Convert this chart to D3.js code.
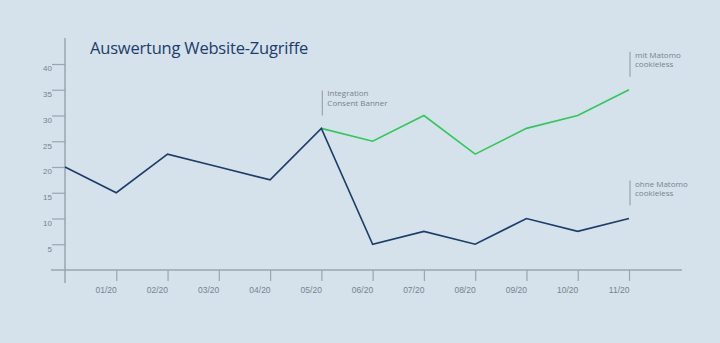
<!DOCTYPE html>
<html lang="de">
<head>
    <meta charset="UTF-8">
    <title>Auswertung Website-Zugriffe</title>
    <script src="https://d3js.org/d3.v7.min.js"></script>
    <style>
        html, body {
            margin: 0;
            padding: 0;
            background-color: #d5e1eb;
        }
        svg {
            display: block;
            font-family: 'Open Sans', sans-serif;
        }
    </style>
</head>
<body>
    <div id="chart"></div>
    <script>
        // DATA
        const months = ["", "01/20", "02/20", "03/20", "04/20", "05/20", "06/20", "07/20", "08/20", "09/20", "10/20", "11/20"];
        const ohneMatomo = [20, 15, 22.5, 20, 17.5, 27.5, 5, 7.5, 5, 10, 7.5, 10];
        const mitMatomo = [null, null, null, null, null, 27.5, 25, 30, 22.5, 27.5, 30, 35];
        const yTicks = [5, 10, 15, 20, 25, 30, 35, 40];
        const notes = [
            {index: 5, value: 27.5, lines: ["Integration", "Consent Banner"]},
            {index: 11, value: 35, lines: ["mit Matomo", "cookieless"]},
            {index: 11, value: 10, lines: ["ohne Matomo", "cookieless"]}
        ];

        const width = 720, height = 343;
        const axisColor = "#9aa5af";
        const textColor = "#78838d";

        const svg = d3.select("#chart")
            .append("svg")
            .attr("width", width)
            .attr("height", height);

        // SCALES
        const x = d3.scaleLinear()
            .domain([0, months.length - 1])
            .range([65, 629]);
        const y = d3.scaleLinear()
            .domain([0, 40])
            .range([270, 64]);

        // TITLE
        svg.append("text")
            .attr("x", 90)
            .attr("y", 54)
            .attr("fill", "#1c3d6a")
            .style("font-size", "16.5px")
            .style("letter-spacing", "-0.2px")
            .text("Auswertung Website-Zugriffe");

        // Y AXIS
        const yAxis = d3.axisLeft(y)
            .tickValues(yTicks)
            .tickSize(13)
            .tickPadding(0);
        const gy = svg.append("g")
            .attr("transform", "translate(65,0)")
            .call(yAxis);
        gy.select(".domain").remove();
        gy.selectAll("line").attr("stroke", axisColor).attr("stroke-width", 1.2);
        gy.selectAll("text")
            .attr("x", -13)
            .attr("dy", "0.85em")
            .attr("fill", textColor)
            .style("font-size", "8px");
        svg.append("line")
            .attr("x1", 65).attr("x2", 65)
            .attr("y1", 38).attr("y2", 283)
            .attr("stroke", axisColor)
            .attr("stroke-width", 1.5);

        // X AXIS
        const xAxis = d3.axisBottom(x)
            .tickValues(d3.range(1, months.length))
            .tickFormat(i => months[i])
            .tickSize(11)
            .tickPadding(0);
        const gx = svg.append("g")
            .attr("transform", "translate(0,270)")
            .call(xAxis);
        gx.select(".domain").remove();
        gx.selectAll("line").attr("stroke", axisColor).attr("stroke-width", 1.2);
        gx.selectAll("text")
            .attr("text-anchor", "end")
            .attr("y", 23)
            .attr("dy", 0)
            .attr("fill", textColor)
            .style("font-size", "8.5px");
        svg.append("line")
            .attr("x1", 51).attr("x2", 682)
            .attr("y1", 270).attr("y2", 270)
            .attr("stroke", axisColor)
            .attr("stroke-width", 1.5);

        // LINES
        const line = d3.line()
            .defined(d => d != null)
            .x((d, i) => x(i))
            .y(d => y(d));

        svg.append("path")
            .datum(mitMatomo)
            .attr("d", line)
            .attr("fill", "none")
            .attr("stroke", "#2fc95a")
            .attr("stroke-width", 1.6);

        svg.append("path")
            .datum(ohneMatomo)
            .attr("d", line)
            .attr("fill", "none")
            .attr("stroke", "#1c3d6a")
            .attr("stroke-width", 1.6);

        // ANNOTATIONS
        const note = svg.selectAll(".note")
            .data(notes).enter()
            .append("g")
            .attr("class", "note")
            .attr("transform", d => `translate(${x(d.index) + 1},${y(d.value) - 13})`);
        note.append("line")
            .attr("y1", -25).attr("y2", 0)
            .attr("stroke", axisColor)
            .attr("stroke-width", 1.2);
        note.append("text")
            .attr("fill", textColor)
            .style("font-size", "8px")
            .selectAll("tspan")
            .data(d => d.lines).enter()
            .append("tspan")
            .attr("x", 5)
            .attr("y", (d, i) => -19 + i * 9.5)
            .text(d => d);
    </script>
</body>
</html>
